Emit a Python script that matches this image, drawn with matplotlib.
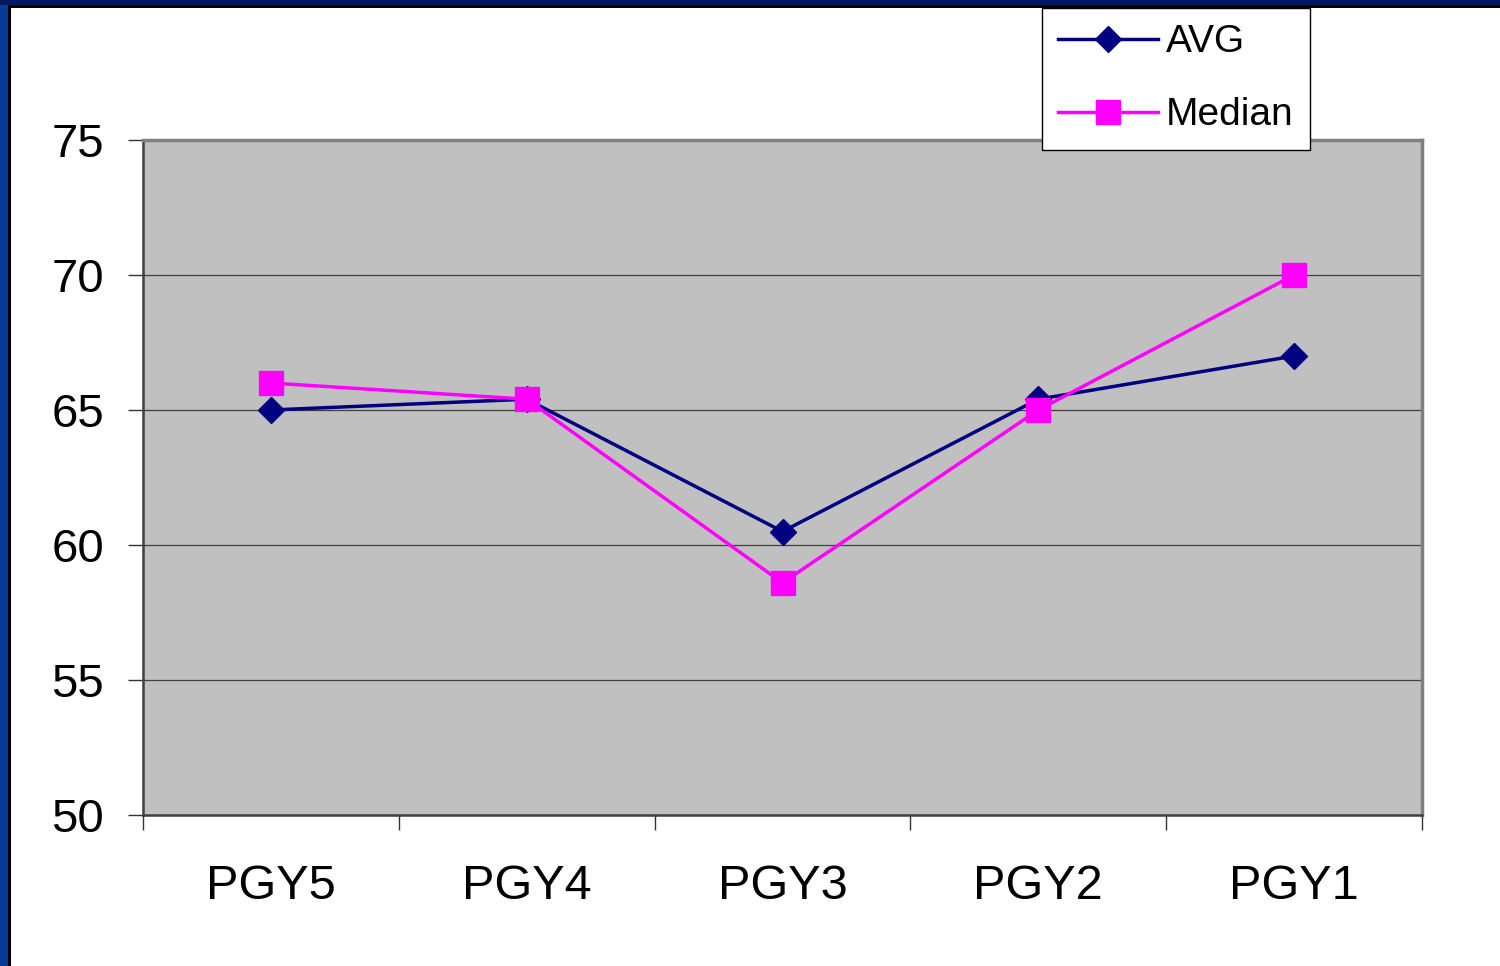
import matplotlib
matplotlib.use("Agg")
import matplotlib.pyplot as plt
from matplotlib.patches import Rectangle

categories = ["PGY5", "PGY4", "PGY3", "PGY2", "PGY1"]
avg = [65.0, 65.4, 60.5, 65.4, 67.0]
median = [66.0, 65.4, 58.6, 65.0, 70.0]
yticks = [50, 55, 60, 65, 70, 75]

plt.rcParams['font.family'] = ['Liberation Sans', 'DejaVu Sans']

W, H = 1500, 966
fig = plt.figure(figsize=(W / 100, H / 100), dpi=100)
fig.patch.set_facecolor('white')

ax = fig.add_axes([143 / W, 1 - 815 / H, (1422 - 143) / W, (815 - 140) / H])
ax.set_facecolor('#C0C0C0')

x = list(range(len(categories)))
ax.plot(x, avg, color='#000080', lw=2.5, marker='D', markersize=13,
        markerfacecolor='#000080', markeredgecolor='#000080', label='AVG', zorder=3)
ax.plot(x, median, color='#FF00FF', lw=2.5, marker='s', markersize=17,
        markerfacecolor='#FF00FF', markeredgecolor='#FF00FF', label='Median', zorder=4)

ax.set_xlim(-0.5, len(categories) - 0.5)
ax.set_ylim(50, 75)
ax.set_yticks(yticks)
ax.set_yticklabels([str(t) for t in yticks], fontsize=34)
ax.set_xticks(x)
ax.set_xticklabels(categories, fontsize=35)
ax.set_xticks([i - 0.5 for i in range(len(categories) + 1)], minor=True)
ax.tick_params(axis='x', which='major', length=0, pad=35)
ax.tick_params(axis='x', which='minor', length=11, width=1, color='#333333', direction='out')
ax.tick_params(axis='y', which='major', length=11, width=1, color='#333333', direction='out', pad=17)

for t in yticks[1:-1]:
    ax.axhline(t, color='#404040', lw=0.9, zorder=1)

for s in ['top', 'right']:
    ax.spines[s].set_color('#808080')
    ax.spines[s].set_linewidth(2.5)
for s in ['left', 'bottom']:
    ax.spines[s].set_color('#404040')
    ax.spines[s].set_linewidth(1.8)

leg = fig.legend(loc='upper left', bbox_to_anchor=(1042 / W, 1 - 8 / H),
                 bbox_transform=fig.transFigure, borderaxespad=0, fontsize=28,
                 frameon=True, fancybox=False, edgecolor='black', framealpha=1,
                 handlelength=2.55, handletextpad=0.22, labelspacing=0.95,
                 borderpad=0.42)
leg.get_frame().set_linewidth(1.0)
leg.set_zorder(10)

# window border (left and top)
fig.patches.append(Rectangle((0, 0), 8 / W, 1, transform=fig.transFigure,
                             facecolor='#0B3A96', edgecolor='none', zorder=20))
fig.patches.append(Rectangle((8 / W, 0), 3 / W, 1 - 5 / H, transform=fig.transFigure,
                             facecolor='black', edgecolor='none', zorder=20))
fig.patches.append(Rectangle((0, 1 - 5 / H), 1, 5 / H, transform=fig.transFigure,
                             facecolor='#001A5E', edgecolor='none', zorder=20))
fig.patches.append(Rectangle((8 / W, 1 - 8 / H), 1, 3 / H, transform=fig.transFigure,
                             facecolor='black', edgecolor='none', zorder=20))

fig.savefig('out.png', dpi=100)
